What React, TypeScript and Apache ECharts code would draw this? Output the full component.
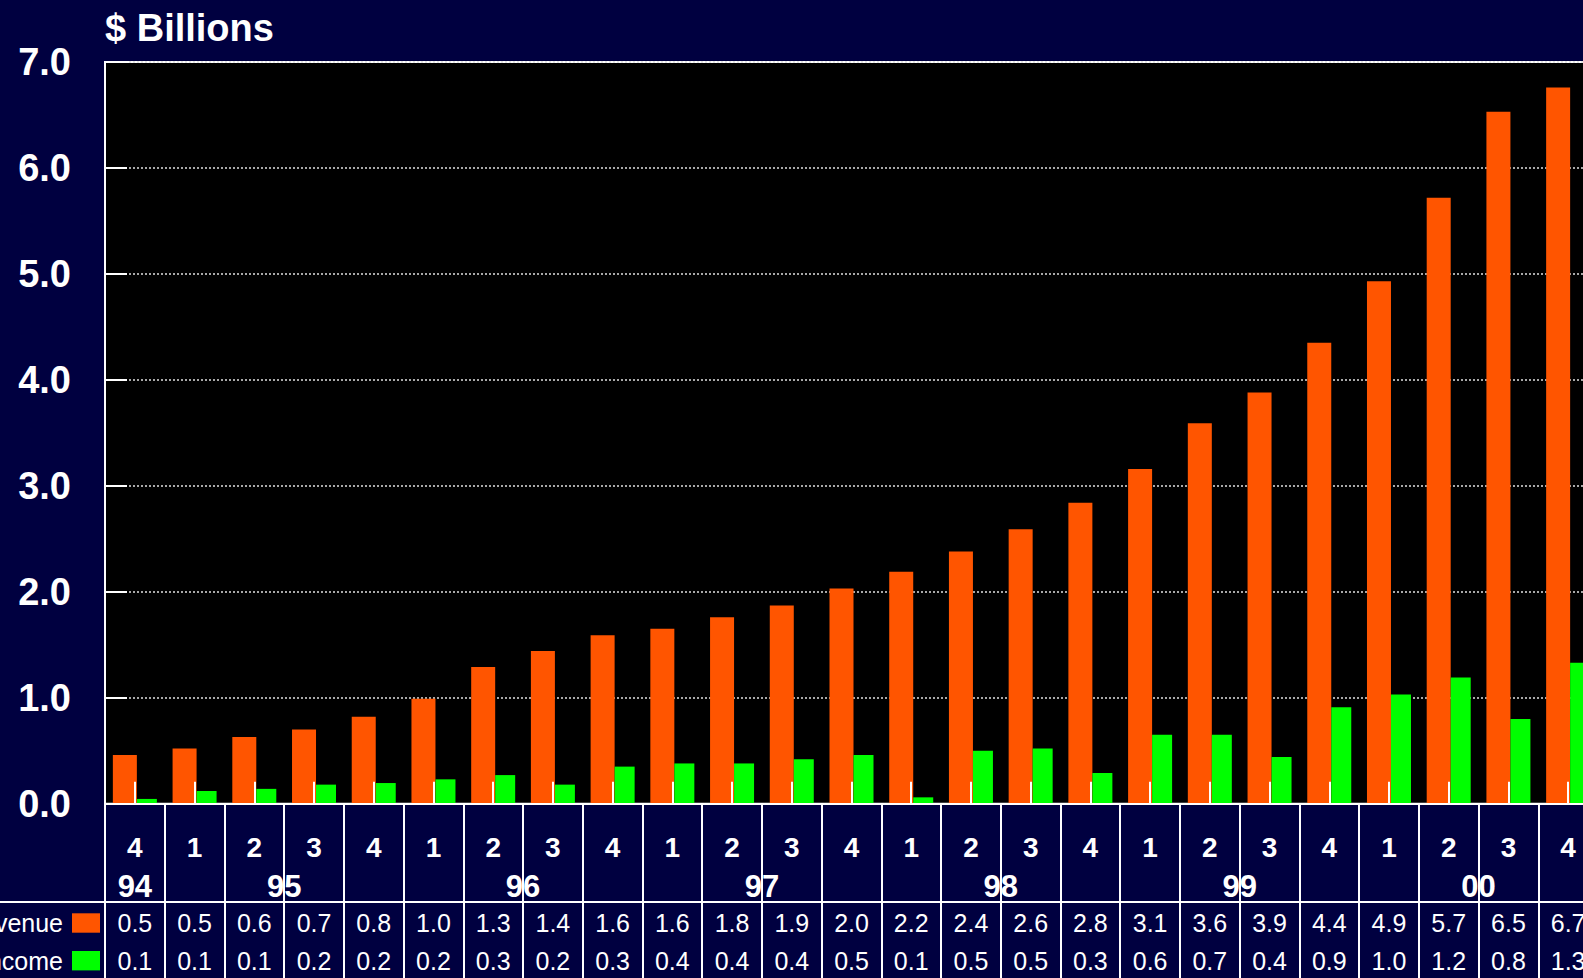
import React, { useEffect, useRef } from 'react';
import * as echarts from 'echarts';

// ---- data ----
const quarters = ['4', '1', '2', '3', '4', '1', '2', '3', '4', '1', '2', '3', '4', '1', '2', '3', '4', '1', '2', '3', '4', '1', '2', '3', '4'];
const years = ['94', '95', '96', '97', '98', '99', '00'];
const revenue = [0.46, 0.52, 0.63, 0.70, 0.82, 0.99, 1.29, 1.44, 1.59, 1.65, 1.76, 1.87, 2.03, 2.19, 2.38, 2.59, 2.84, 3.16, 3.59, 3.88, 4.35, 4.93, 5.72, 6.53, 6.76];
const netIncome = [0.045, 0.12, 0.14, 0.18, 0.195, 0.23, 0.27, 0.18, 0.35, 0.38, 0.38, 0.42, 0.46, 0.06, 0.50, 0.52, 0.29, 0.65, 0.65, 0.44, 0.91, 1.03, 1.19, 0.80, 1.33];
const revenueLabels = ['0.5', '0.5', '0.6', '0.7', '0.8', '1.0', '1.3', '1.4', '1.6', '1.6', '1.8', '1.9', '2.0', '2.2', '2.4', '2.6', '2.8', '3.1', '3.6', '3.9', '4.4', '4.9', '5.7', '6.5', '6.7'];
const incomeLabels = ['0.1', '0.1', '0.1', '0.2', '0.2', '0.2', '0.3', '0.2', '0.3', '0.4', '0.4', '0.4', '0.5', '0.1', '0.5', '0.5', '0.3', '0.6', '0.7', '0.4', '0.9', '1.0', '1.2', '0.8', '1.3'];
const seriesNames = ['Revenue', 'Net Income'];

const W = 1610;
const H = 978;
const FONT = '"Liberation Sans", Arial, Helvetica, sans-serif';

// centre position (in category index units) of each year's group of quarters
function yearCenters(): number[] {
  const starts: number[] = [0];
  quarters.forEach((q, i) => {
    if (q === '1' && i > 0) starts.push(i);
  });
  return starts.map((s, k) => {
    const end = k + 1 < starts.length ? starts[k + 1] - 1 : quarters.length - 1;
    return (s + end) / 2;
  });
}

export default function App() {
  const ref = useRef<HTMLDivElement>(null);

  useEffect(() => {
    document.body.style.margin = '0';
    document.body.style.overflow = 'hidden';
    const chart = echarts.init(ref.current!, null, { renderer: 'svg' });
    const centers = yearCenters();

    const gridLeft = 105;
    const gridTop = 62;
    const gridWidth = 1493;
    const gridHeight = 741.7;
    const axisY = gridTop + gridHeight;

    const option: any = {
      animation: false,
      backgroundColor: '#000040',
      textStyle: { fontFamily: FONT },
      title: {
        text: '$ Billions',
        left: gridLeft,
        top: 9,
        padding: 0,
        textStyle: { color: '#ffffff', fontSize: 38, fontWeight: 'bold', fontFamily: FONT },
      },
      legend: {
        data: seriesNames,
        orient: 'vertical',
        right: W - 100,
        top: 910.5,
        align: 'right',
        padding: 0,
        itemWidth: 28,
        itemHeight: 19.4,
        itemGap: 12.7,
        icon: 'rect',
        selectedMode: false,
        textStyle: { color: '#ffffff', fontSize: 25, fontFamily: FONT, padding: [0, 4, 0, 0] },
      },
      grid: {
        left: gridLeft,
        top: gridTop,
        width: gridWidth,
        height: gridHeight,
        show: true,
        backgroundColor: '#000000',
        borderColor: '#ffffff',
        borderWidth: 2,
        containLabel: false,
        outerBoundsMode: 'none',
      },
      xAxis: [
        {
          type: 'category',
          data: quarters,
          position: 'bottom',
          z: 10,
          axisLine: { show: true, onZero: false, lineStyle: { color: '#ffffff', width: 2 } },
          axisTick: { show: true, inside: true, alignWithLabel: true, interval: 0, length: 22, lineStyle: { color: '#ffffff', width: 2 } },
          axisLabel: { interval: 0, margin: 44, verticalAlign: 'middle', color: '#ffffff', fontSize: 28, fontWeight: 'bold', fontFamily: FONT },
          splitLine: { show: false },
        },
        {
          type: 'value',
          min: -0.5,
          max: quarters.length - 0.5,
          position: 'bottom',
          axisLine: { show: false, onZero: false },
          axisTick: { show: false },
          splitLine: { show: false },
          axisLabel: {
            customValues: centers,
            margin: 83,
            verticalAlign: 'middle',
            color: '#ffffff',
            fontSize: 31,
            fontWeight: 'bold',
            fontFamily: FONT,
            formatter: (v: number) => {
              const k = centers.findIndex((c) => Math.abs(c - v) < 0.01);
              return k >= 0 ? years[k] : '';
            },
          },
        },
        {
          type: 'category',
          data: revenueLabels,
          position: 'bottom',
          axisLine: { show: false, onZero: false },
          axisTick: { show: true, interval: 0, length: H - axisY, lineStyle: { color: '#ffffff', width: 2 } },
          axisLabel: { interval: 0, margin: 119, verticalAlign: 'middle', color: '#ffffff', fontSize: 25, fontFamily: FONT },
          splitLine: { show: false },
        },
        {
          type: 'category',
          data: incomeLabels,
          position: 'bottom',
          axisLine: { show: false, onZero: false },
          axisTick: { show: false },
          axisLabel: { interval: 0, margin: 157, verticalAlign: 'middle', color: '#ffffff', fontSize: 25, fontFamily: FONT },
          splitLine: { show: false },
        },
      ],
      yAxis: {
        type: 'value',
        min: 0,
        max: 7,
        interval: 1,
        axisLine: { show: true, onZero: false, lineStyle: { color: '#ffffff', width: 2 } },
        axisTick: { show: true, inside: true, length: 22, lineStyle: { color: '#ffffff', width: 2 } },
        axisLabel: {
          margin: 34,
          color: '#ffffff',
          fontSize: 38,
          fontWeight: 'bold',
          fontFamily: FONT,
          formatter: (v: number) => v.toFixed(1),
        },
        splitLine: { show: true, lineStyle: { color: '#e0e0e0', width: 1.5, type: [2, 2] } },
      },
      graphic: [
        {
          type: 'line',
          z: 100,
          shape: { x1: 0, y1: 902, x2: W, y2: 902 },
          style: { stroke: '#ffffff', lineWidth: 2 },
        },
      ],
      series: [
        {
          name: seriesNames[0],
          type: 'bar',
          xAxisIndex: 0,
          data: revenue,
          barWidth: 24,
          barGap: '0%',
          itemStyle: { color: '#ff5500' },
        },
        {
          name: seriesNames[1],
          type: 'bar',
          xAxisIndex: 0,
          data: netIncome,
          barWidth: 20,
          barGap: '0%',
          itemStyle: { color: '#00ff00' },
        },
      ],
    };

    chart.setOption(option);
    return () => chart.dispose();
  }, []);

  return (
    <div style={{ position: 'fixed', left: 0, top: 0, width: 1583, height: H, overflow: 'hidden', background: '#000040' }}>
      <div ref={ref} style={{ width: W, height: H }} />
    </div>
  );
}
